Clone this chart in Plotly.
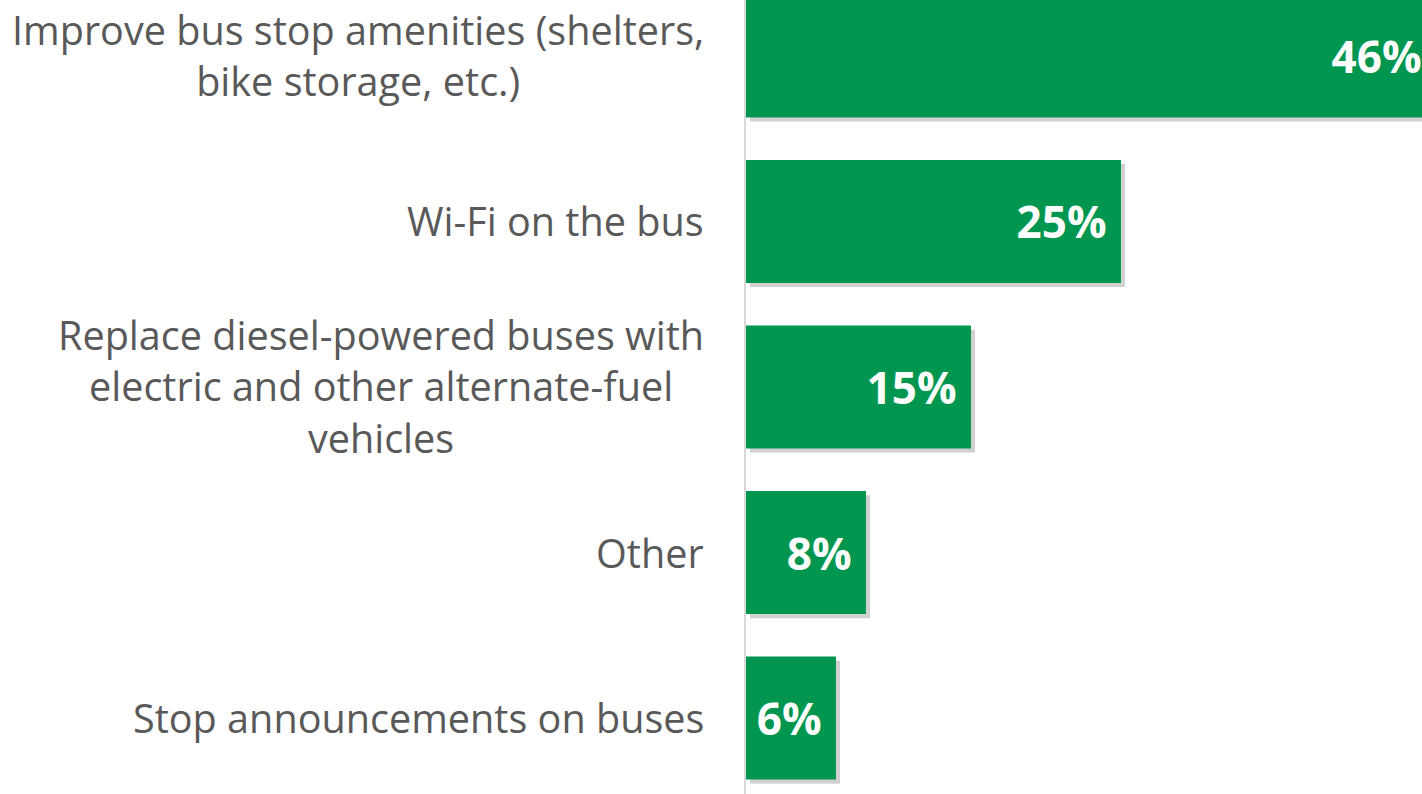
import plotly.graph_objects as go

categories = [
    "Improve bus stop amenities (shelters,<br>bike storage, etc.)",
    "Wi-Fi on the bus",
    "Replace diesel-powered buses with<br>electric and other alternate-fuel<br>vehicles",
    "Other",
    "Stop announcements on buses",
]
values = [46, 25, 15, 8, 6]
value_labels = ["46%", "25%", "15%", "8%", "6%"]

GREEN = "#00964F"
GRAY = "#595959"
FONT = "Open Sans"

fig = go.Figure()

# soft shadow behind bars
fig.add_trace(go.Bar(
    y=categories, x=values, orientation="h",
    base=0.27, width=0.743, offset=-0.743 / 2 + 0.025,
    marker=dict(color="rgba(0,0,0,0.18)", line=dict(width=0)),
    hoverinfo="skip", showlegend=False,
))

fig.add_trace(go.Bar(
    y=categories, x=values, orientation="h",
    width=0.743,
    marker=dict(color=GREEN, line=dict(width=0)),
    text=value_labels, texttemplate="%{text}\u00a0",
    textposition="inside", insidetextanchor="end",
    textfont=dict(family=FONT, size=44, color="white", weight="bold"),
    textangle=0,
    showlegend=False,
))

for cat in categories:
    fig.add_annotation(
        x=0, xref="paper", y=cat, yref="y",
        xanchor="right", yanchor="middle", xshift=-40,
        text=cat, showarrow=False, align="center",
        font=dict(family=FONT, size=39.6, color=GRAY),
    )

fig.update_layout(
    width=1422, height=794,
    margin=dict(l=746, r=0, t=0, b=0),
    paper_bgcolor="white", plot_bgcolor="white",
    barmode="overlay",
    uniformtext=dict(mode=False),
    xaxis=dict(range=[0, 45.07], visible=False, fixedrange=True),
    yaxis=dict(
        type="category", range=[4.459, -0.338],
        showticklabels=False, showgrid=False, zeroline=False,
        showline=True, linecolor="#D9D9D9", linewidth=1.5, ticks="",
        fixedrange=True,
    ),
)

fig.write_html(
    "out.html",
    config={"displayModeBar": False},
    post_script="document.body.style.margin='0';document.body.style.overflow='hidden';",
)
